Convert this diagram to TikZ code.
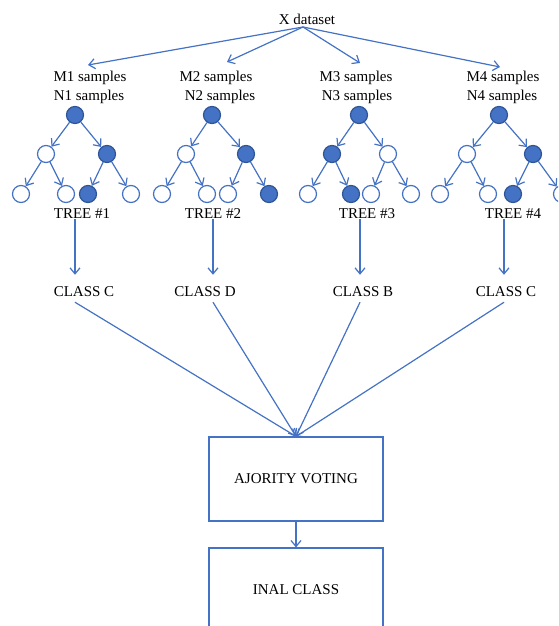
\documentclass[tikz,border=0pt]{standalone}
\usepackage{fontspec}
\setmainfont{Liberation Serif}
\usetikzlibrary{arrows.meta}
\definecolor{lb}{HTML}{4472C4}
\definecolor{db}{HTML}{2F5597}
\begin{document}
\begin{tikzpicture}[x=1pt,y=-1pt,
  lbl/.style={font=\fontsize{15}{18}\selectfont, inner sep=0pt, text=black},
  arr/.style={draw=lb, line width=1.2pt, -{Straight Barb[length=6pt,width=10pt]}},
  ln/.style={draw=lb, line width=1.2pt},
  nd/.style={circle, draw=lb, line width=1.2pt, minimum size=17pt, inner sep=0pt, fill=white},
  fd/.style={nd, fill=lb, draw=db},
  bx/.style={lbl, draw=lb, line width=1.2pt, minimum width=174pt, minimum height=84pt}
]
\useasboundingbox (0,0) rectangle (558,626);
\clip (0,0) rectangle (558,626);

% top
\node[lbl] (x) at (307,19) {X dataset};
\coordinate (xs) at (303,27);
\node[lbl] (m1) at (90,78) {M1 samples};
\node[lbl] (n1) at (89,97) {N1 samples};
\node[lbl] (m2) at (216,78) {M2 samples};
\node[lbl] (n2) at (220,97) {N2 samples};
\node[lbl] (m3) at (356,78) {M3 samples};
\node[lbl] (n3) at (357,97) {N3 samples};
\node[lbl] (m4) at (503,78) {M4 samples};
\node[lbl] (n4) at (502,97) {N4 samples};
\draw[arr] (xs) -- ([xshift=-2pt,yshift=6pt]m1.north);
\draw[arr] (xs) -- ([xshift=11pt,yshift=9pt]m2.north);
\draw[arr] (xs) -- ([xshift=4pt,yshift=8pt]m3.north);
\draw[arr] (xs) -- ([xshift=-3pt,yshift=4pt]m4.north);

% tree 1
\node[fd] (r1) at (75,115) {};
\node[nd] (a1) at (46,154) {};
\node[fd] (b1) at (107,154) {};
\node[nd] (l1a) at (21,194) {};
\node[nd] (l1b) at (66,194) {};
\node[fd] (l1c) at (88,194) {};
\node[nd] (l1d) at (131,194) {};
% tree 2
\node[fd] (r2) at (212,115) {};
\node[nd] (a2) at (186,154) {};
\node[fd] (b2) at (246,154) {};
\node[nd] (l2a) at (162,194) {};
\node[nd] (l2b) at (207,194) {};
\node[nd] (l2c) at (228,194) {};
\node[fd] (l2d) at (269,194) {};
% tree 3
\node[fd] (r3) at (359,115) {};
\node[fd] (a3) at (332,154) {};
\node[nd] (b3) at (388,154) {};
\node[nd] (l3a) at (308,194) {};
\node[fd] (l3b) at (351,194) {};
\node[nd] (l3c) at (371,194) {};
\node[nd] (l3d) at (411,194) {};
% tree 4
\node[fd] (r4) at (499,115) {};
\node[nd] (a4) at (467,154) {};
\node[fd] (b4) at (533,154) {};
\node[nd] (l4a) at (440,194) {};
\node[nd] (l4b) at (488,194) {};
\node[fd] (l4c) at (513,194) {};
\node[nd] (l4d) at (562,194) {};

\foreach \i in {1,2,3,4}{
  \draw[arr] (r\i) -- (a\i);
  \draw[arr] (r\i) -- (b\i);
  \draw[arr] (a\i) -- (l\i a);
  \draw[arr] (a\i) -- (l\i b);
  \draw[arr] (b\i) -- (l\i c);
  \draw[arr] (b\i) -- (l\i d);
}

% tree labels and classes
\node[lbl] (t1) at (82,214) {TREE \#1};
\node[lbl] (t2) at (213,214) {TREE \#2};
\node[lbl] (t3) at (367,214) {TREE \#3};
\node[lbl] (t4) at (513,214) {TREE \#4};
\node[lbl] (c1) at (84,292) {CLASS C};
\node[lbl] (c2) at (205,292) {CLASS D};
\node[lbl] (c3) at (363,292) {CLASS B};
\node[lbl] (c4) at (506,292) {CLASS C};
\coordinate (k1) at (75,0);
\coordinate (k2) at (213,0);
\coordinate (k3) at (360,0);
\coordinate (k4) at (504,0);

\node[bx] (vote) at (296,479) {AJORITY VOTING};
\node[bx] (final) at (296,590) {INAL CLASS};

\foreach \i in {1,2,3,4}{
  \draw[arr] (t\i.south -| k\i) -- ([yshift=12pt]c\i.north -| k\i);
  \draw[arr] ([yshift=-5pt]c\i.south -| k\i) -- (vote.north);
}
\draw[arr] (vote) -- (final);
\end{tikzpicture}
\end{document}
